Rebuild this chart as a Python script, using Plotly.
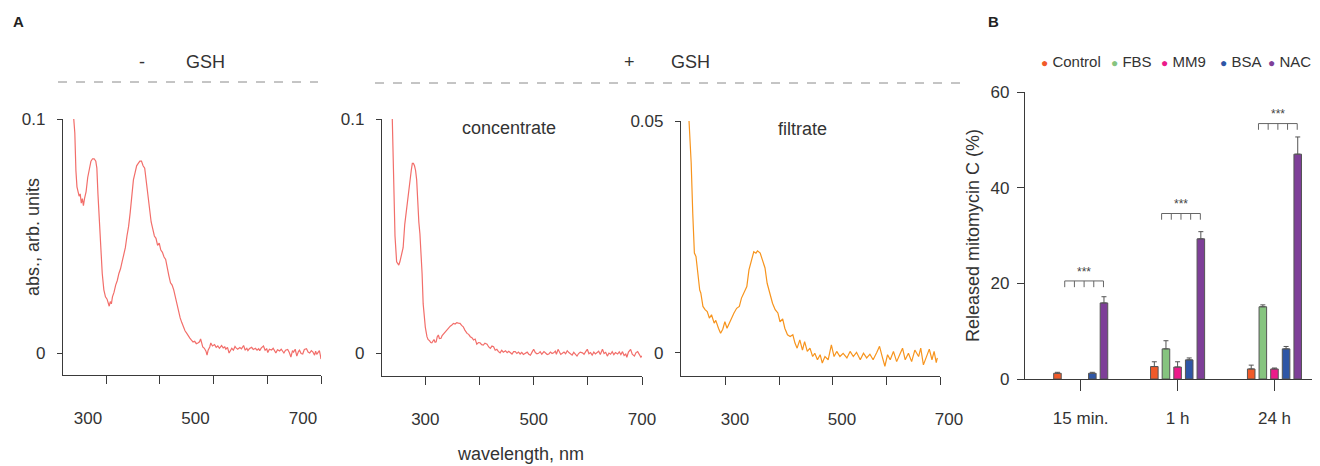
import plotly.graph_objects as go

# ---------------- DATA ----------------
# Panel A: absorption spectra (wavelength nm, absorbance arb. units)
wl_minus = [240, 242, 244, 246, 248, 250, 252, 254, 256, 258, 260, 263, 266, 269, 272, 275, 278, 281, 283, 285,
            287, 289, 291, 293, 296, 299, 302, 304, 306, 308, 310, 312, 315, 318, 321, 324, 327, 330, 333, 336,
            339, 342, 345, 348, 351, 354, 357, 360, 363, 366, 369, 372, 375, 378, 381, 384, 387, 390, 393, 396,
            399, 402, 405, 408, 411, 414, 417, 420, 423, 426, 429, 432, 435, 438, 441, 444, 447, 450, 453, 456,
            459, 462, 465, 468, 471, 474, 476, 478, 480, 483, 486, 488, 490, 493, 495, 498, 502, 505, 508, 511,
            515, 518, 521, 523, 526, 529, 532, 534, 537, 540, 542, 545, 549, 552, 556, 559, 562, 564, 567, 571,
            574, 578, 581, 584, 586, 589, 593, 596, 599, 601, 604, 608, 611, 614, 616, 619, 623, 626, 629, 631,
            634, 638, 641, 644, 647, 649, 652, 655, 658, 660, 663, 666, 669, 673, 676, 679, 682, 685, 688, 690,
            692, 694, 697, 699, 700]
abs_minus = [0.1, 0.094, 0.078, 0.071, 0.069, 0.067, 0.068, 0.064, 0.066, 0.063, 0.066, 0.069, 0.075, 0.078, 0.082, 0.083, 0.083, 0.082, 0.079, 0.068,
             0.058, 0.051, 0.041, 0.034, 0.027, 0.024, 0.023, 0.021, 0.020, 0.022, 0.021, 0.024, 0.026, 0.029, 0.031, 0.034, 0.036, 0.039, 0.042, 0.045,
             0.050, 0.054, 0.060, 0.067, 0.074, 0.077, 0.080, 0.081, 0.082, 0.082, 0.080, 0.079, 0.073, 0.068, 0.063, 0.056, 0.053, 0.050, 0.049, 0.046,
             0.047, 0.044, 0.043, 0.041, 0.040, 0.036, 0.033, 0.030, 0.029, 0.027, 0.024, 0.020, 0.017, 0.015, 0.013, 0.011, 0.0095, 0.0085, 0.0072, 0.0064,
             0.0055, 0.0047, 0.0050, 0.0040, 0.0043, 0.0048, 0.0060, 0.0035, 0.0026, 0.0020, 0.0008, -0.0009, 0.0012, 0.0026, 0.0043, 0.0030, 0.0036, 0.0024, 0.0030, 0.0020,
             0.0032, 0.0022, 0.0026, 0.0016, 0.0024, 0.0000, 0.0014, 0.0020, 0.0012, 0.0028, 0.0022, 0.0016, 0.0023, 0.0018, 0.0032, 0.0012, 0.0020, 0.0010, 0.0019, 0.0024,
             0.0015, 0.0020, 0.0012, 0.0018, 0.0010, 0.0022, 0.0030, 0.0012, 0.0018, 0.0002, 0.0016, 0.0013, 0.0020, 0.0006, 0.0000, 0.0014, 0.0009, 0.0016, 0.0004, 0.0000,
             0.0012, 0.0015, 0.0002, -0.0017, 0.0010, 0.0004, 0.0016, -0.0013, 0.0006, 0.0012, -0.0002, -0.0004, 0.0015, 0.0018, 0.0004, 0.0000, 0.0010, 0.0004, -0.0009, 0.0008,
             -0.0006, 0.0002, 0.0010, -0.0012, -0.0026]

wl_conc = [239, 241, 244, 247, 249, 251, 253, 255, 257, 259, 262, 265, 268, 271, 274, 276, 278, 280, 282, 284,
           286, 288, 290, 292, 294, 296, 298, 300, 303, 305, 308, 310, 312, 314, 316, 318, 320, 322, 324, 326,
           329, 331, 334, 337, 340, 343, 346, 349, 352, 355, 358, 361, 364, 367, 370, 373, 377, 380, 383, 386,
           389, 392, 395, 398, 401, 404, 407, 410, 414, 417, 420, 423, 426, 429, 432, 435, 438, 441, 444, 448,
           451, 454, 457, 460, 463, 466, 469, 472, 475, 478, 481, 485, 488, 491, 494, 497, 500, 503, 506, 509,
           512, 515, 519, 522, 525, 528, 531, 534, 537, 540, 542, 545, 548, 550, 553, 556, 559, 562, 565, 568,
           571, 574, 577, 580, 583, 586, 590, 593, 596, 599, 602, 605, 608, 611, 614, 617, 620, 623, 627, 630,
           633, 636, 639, 642, 645, 648, 651, 655, 658, 661, 664, 667, 670, 672, 675, 679, 682, 686, 689, 692,
           695, 698, 700]
abs_conc = [0.1, 0.074, 0.050, 0.039, 0.038, 0.0376, 0.039, 0.041, 0.043, 0.045, 0.055, 0.061, 0.067, 0.074, 0.078, 0.081, 0.081, 0.080, 0.078, 0.074,
            0.063, 0.056, 0.051, 0.043, 0.034, 0.021, 0.015, 0.011, 0.007, 0.0058, 0.0052, 0.0045, 0.0044, 0.0052, 0.0058, 0.0046, 0.0048, 0.0070, 0.0077, 0.0062,
            0.0063, 0.0075, 0.0084, 0.0092, 0.0101, 0.0108, 0.0115, 0.0120, 0.0127, 0.0124, 0.0130, 0.0128, 0.0127, 0.0118, 0.0112, 0.0098, 0.0084, 0.0080, 0.0070, 0.0066,
            0.0056, 0.0060, 0.0038, 0.0045, 0.0044, 0.0036, 0.0034, 0.0042, 0.0038, 0.0026, 0.0020, 0.0030, 0.0027, 0.0012, 0.0016, 0.0006, 0.0001, 0.0012, 0.0004, 0.0010,
            0.0002, 0.0008, 0.0001, -0.0004, 0.0006, 0.0006, -0.0002, 0.0004, -0.0004, 0.0003, -0.0006, 0.0001, 0.0004, -0.0005, -0.0009, 0.0004, 0.0016, 0.0002, -0.0003, -0.0001,
            0.0006, -0.0005, 0.0006, 0.0000, -0.0006, -0.0004, 0.0004, -0.0002, 0.0001, 0.0008, -0.0005, 0.0016, 0.0003, -0.0006, -0.0001, 0.0004, -0.0003, 0.0010, 0.0002, -0.0004,
            -0.0009, 0.0003, -0.0006, -0.0013, -0.0002, 0.0004, 0.0001, -0.0005, 0.0006, 0.0016, -0.0003, 0.0002, -0.0009, 0.0004, -0.0004, 0.0001, 0.0008, -0.0006, 0.0016, -0.0002,
            0.0003, -0.0013, 0.0000, -0.0005, 0.0006, -0.0007, 0.0002, -0.0004, 0.0005, -0.0006, 0.0006, -0.0010, -0.0004, -0.0018, 0.0004, 0.0016, -0.0005, -0.0013, 0.0002, 0.0006,
            -0.0008, -0.0018, -0.0012]

wl_filt = [231, 233, 235, 238, 241, 244, 248, 251, 253, 257, 261, 265, 269, 273, 278, 281, 286, 290, 294, 298,
           302, 306, 311, 315, 320, 325, 329, 334, 339, 343, 348, 352, 356, 359, 364, 368, 373, 377, 382, 387,
           392, 397, 401, 406, 410, 415, 420, 425, 429, 433, 438, 443, 447, 452, 457, 462, 466, 471, 476, 480,
           485, 491, 497, 502, 507, 513, 519, 526, 532, 538, 544, 551, 557, 563, 569, 575, 582, 587, 592, 597,
           602, 607, 613, 619, 625, 630, 635, 641, 647, 653, 660, 664, 669, 675, 680, 685, 689, 693, 695]
abs_filt = [0.05, 0.046, 0.041, 0.030, 0.0215, 0.0208, 0.0164, 0.0135, 0.0129, 0.0100, 0.0093, 0.0089, 0.0075, 0.0082, 0.0064, 0.0070, 0.0053, 0.0042, 0.0051, 0.0067,
            0.0053, 0.0064, 0.0078, 0.0086, 0.0096, 0.0100, 0.0118, 0.0129, 0.0143, 0.0179, 0.0200, 0.0218, 0.0215, 0.0220, 0.0215, 0.0200, 0.0183, 0.0150, 0.0129, 0.0107,
            0.0093, 0.0086, 0.0067, 0.0073, 0.0053, 0.0039, 0.0035, 0.0039, 0.0021, 0.0010, 0.0028, 0.0006, 0.0024, 0.0003, 0.0010, -0.0008, -0.0001, -0.0015, -0.0004, -0.0022,
            -0.0008, -0.0015, 0.0017, -0.0008, 0.0003, -0.0008, -0.0001, -0.0011, 0.0003, -0.0008, 0.0001, -0.0015, -0.0001, -0.0011, -0.0003, -0.0015, 0.0001, 0.0014, -0.0008, -0.0029,
            -0.0004, -0.0015, 0.0003, -0.0019, -0.0003, 0.0010, -0.0015, -0.0001, -0.0019, 0.0006, -0.0008, 0.0010, -0.0026, -0.0008, 0.0008, -0.0015, 0.0003, -0.0021, -0.0011]

# Panel B: released mitomycin C (%)
times = ["15 min.", "1 h", "24 h"]
series_names = ["Control", "FBS", "MM9", "BSA", "NAC"]
control = [1.2, 2.6, 2.1]
control_err = [0.2, 1.0, 0.8]
fbs = [None, 6.3, 15.1]
fbs_err = [0, 1.7, 0.4]
mm9 = [None, 2.5, 2.1]
mm9_err = [0, 1.1, 0.2]
bsa = [1.2, 4.0, 6.3]
bsa_err = [0.2, 0.4, 0.5]
nac = [15.9, 29.3, 47.0]
nac_err = [1.3, 1.5, 3.6]
sig_level = [20.5, 34.6, 53.4]
sig_label = ["***", "***", "***"]

# ---------------- STYLE ----------------
FONT = "Liberation Sans, Arial, Helvetica, sans-serif"
TXT = "#333333"
AX = "#3a3a3a"
RED = "#f26e6a"
ORANGE = "#f7941d"
bar_colors = ["#f15a29", "#86c47f", "#ec1a8a", "#2e56a6", "#7e3f98"]

# the page places the figure 8 px from the top-left corner of the window
OFF = 8
W, H = 1320 - OFF, 466 - OFF


def px(x):
    return (x - OFF) / W


def py(y):
    return 1 - (y - OFF) / H


fig = go.Figure()

fig.add_trace(go.Scatter(x=wl_minus, y=abs_minus, mode="lines", line=dict(color=RED, width=1.2),
                         xaxis="x", yaxis="y", showlegend=False, hoverinfo="skip"))
fig.add_trace(go.Scatter(x=wl_conc, y=abs_conc, mode="lines", line=dict(color=RED, width=1.2),
                         xaxis="x2", yaxis="y2", showlegend=False, hoverinfo="skip"))
fig.add_trace(go.Scatter(x=wl_filt, y=abs_filt, mode="lines", line=dict(color=ORANGE, width=1.2),
                         xaxis="x3", yaxis="y3", showlegend=False, hoverinfo="skip"))

vals = [control, fbs, mm9, bsa, nac]
errs = [control_err, fbs_err, mm9_err, bsa_err, nac_err]
for name, v, e, c in zip(series_names, vals, errs, bar_colors):
    fig.add_trace(go.Bar(x=times, y=v, name=name, xaxis="x4", yaxis="y4", showlegend=False,
                         marker=dict(color=c, line=dict(color="#555555", width=1)),
                         error_y=dict(type="data", array=e, arrayminus=[0] * len(e), symmetric=False,
                                      color="#555555", thickness=1, width=2.5)))

tickfont = dict(family=FONT, size=17, color=TXT)


def spec_x(domain, xr, shift):
    return dict(domain=domain, range=xr, tickvals=[300, 400, 500, 600, 700],
                ticktext=["300", "", "500", "", "700"], ticks="outside", ticklen=8, tickwidth=1.2,
                tickcolor=AX, showline=True, linecolor=AX, linewidth=1.2, showgrid=False,
                zeroline=False, tickfont=tickfont, ticklabelstandoff=19, ticklabelshift=shift,
                automargin=False)


def spec_y(domain, yr, top, anchor):
    return dict(domain=domain, range=yr, tickvals=[0, top], ticktext=["0", str(top)],
                ticks="outside", ticklen=5, tickwidth=1.2, tickcolor=AX, showline=True,
                linecolor=AX, linewidth=1.2, showgrid=False, zeroline=False, tickfont=tickfont,
                ticklabelstandoff=8, anchor=anchor, automargin=False)


fig.update_layout(
    width=W, height=H, autosize=False,
    margin=dict(l=0, r=0, t=0, b=0, pad=0),
    paper_bgcolor="white", plot_bgcolor="white",
    font=dict(family=FONT, color=TXT),
    barmode="group", bargap=0.4, bargroupgap=0.35,
    showlegend=False,
    xaxis=dict(**spec_x([px(63), px(321)], [220, 700], -18), anchor="y"),
    yaxis=spec_y([py(375), py(119)], [-0.0094, 0.1], 0.1, "x"),
    xaxis2=dict(**spec_x([px(382), px(642)], [220, 700], 0), anchor="y2"),
    yaxis2=spec_y([py(376), py(119)], [-0.0098, 0.1], 0.1, "x2"),
    xaxis3=dict(**spec_x([px(681), px(940)], [216, 700], 9), anchor="y3"),
    yaxis3=spec_y([py(376), py(121)], [-0.005, 0.05], 0.05, "x3"),
    xaxis4=dict(domain=[px(1025), 1.0], anchor="y4", range=[-0.575, 2.47], type="category",
                ticks="outside", ticklen=11, tickwidth=1.2, tickcolor=AX, showline=True,
                linecolor=AX, linewidth=1.2, showgrid=False, zeroline=False, tickfont=tickfont,
                ticklabelstandoff=12, automargin=False),
    yaxis4=dict(domain=[py(379), py(92)], anchor="x4", range=[0, 60], tickvals=[0, 20, 40, 60],
                ticks="outside", ticklen=7, tickwidth=1.2, tickcolor=AX, showline=True,
                linecolor=AX, linewidth=1.2, showgrid=False, zeroline=False, tickfont=tickfont,
                ticklabelstandoff=4, automargin=False,
                title=dict(text="Released mitomycin C (%)", font=dict(family=FONT, size=18, color=TXT),
                           standoff=6)),
)

shapes = []
# dashed header lines
shapes.append(dict(type="line", xref="paper", yref="paper", x0=px(58), x1=px(318), y0=py(82), y1=py(82),
                   line=dict(color="#8a8a8a", width=1, dash="dash")))
shapes.append(dict(type="line", xref="paper", yref="paper", x0=px(375), x1=px(960), y0=py(83), y1=py(83),
                   line=dict(color="#8a8a8a", width=1, dash="dash")))

# significance brackets
tick_off = [-0.165, -0.065, 0.035, 0.135, 0.235]
for i, lvl in enumerate(sig_level):
    shapes.append(dict(type="line", xref="x4", yref="y4", x0=i + tick_off[0], x1=i + tick_off[-1],
                       y0=lvl, y1=lvl, line=dict(color="#666666", width=1)))
    for o in tick_off:
        shapes.append(dict(type="line", xref="x4", yref="y4", x0=i + o, x1=i + o, y0=lvl, y1=lvl - 1.3,
                           line=dict(color="#666666", width=1)))
fig.update_layout(shapes=shapes)

ann = []


def text(x, y, s, size=17, bold=False, angle=0, xanchor="center"):
    ann.append(dict(x=px(x), y=py(y), xref="paper", yref="paper", text=("<b>%s</b>" % s) if bold else s,
                    showarrow=False, xanchor=xanchor, yanchor="middle", textangle=angle,
                    font=dict(family=FONT, size=size, color="#222222" if bold else TXT)))


text(18, 22, "A", size=15, bold=True)
text(994, 21, "B", size=15, bold=True)
text(142, 62, "-", size=18)
text(205, 62, "GSH", size=18)
text(629, 62, "+", size=18)
text(690, 62, "GSH", size=18)
text(509, 128, "concentrate", size=18)
text(802, 129, "filtrate", size=18)
text(520, 454, "wavelength, nm", size=18)
text(33, 237, "abs., arb. units", size=18, angle=-90)

for i, (lvl, lab) in enumerate(zip(sig_level, sig_label)):
    ann.append(dict(x=i + 0.035, y=lvl + 1.9, xref="x4", yref="y4", text=lab, showarrow=False,
                    font=dict(family=FONT, size=12, color="#444444"), yanchor="middle"))

# legend (circle markers + names)
legend_x = [1040, 1110, 1160, 1219, 1267]
for lx, name, c in zip(legend_x, series_names, bar_colors):
    ann.append(dict(x=px(lx), y=py(61), xref="paper", yref="paper", xanchor="left", yanchor="middle",
                    showarrow=False, borderpad=0,
                    text="<span style='color:%s;font-size:12px'>\u25CF</span> %s" % (c, name),
                    font=dict(family=FONT, size=15, color=TXT)))

fig.update_layout(annotations=ann)

fig.write_html("out.html")
